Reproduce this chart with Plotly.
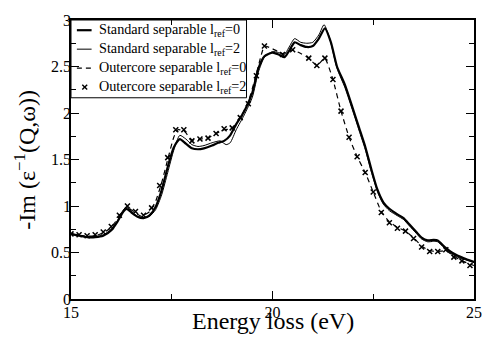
import plotly.graph_objects as go

# Standard separable, l_ref = 0
e_std0 = [15.0, 15.2, 15.4, 15.6, 15.8, 16.0, 16.15, 16.3, 16.38, 16.5, 16.65, 16.8, 16.95,
          17.1, 17.25, 17.4, 17.55, 17.7, 17.85, 18.0, 18.15, 18.3, 18.5, 18.65, 18.8, 18.95,
          19.1, 19.3, 19.5, 19.65, 19.8, 20.0, 20.15, 20.3, 20.4, 20.55, 20.7, 20.85, 21.0,
          21.15, 21.3, 21.45, 21.6, 21.8, 22.0, 22.15, 22.3, 22.45, 22.6, 22.75, 22.9, 23.1,
          23.25, 23.4, 23.57, 23.7, 23.85, 24.0, 24.1, 24.2, 24.3, 24.45, 24.6, 24.8, 25.0]
im_std0 = [0.70, 0.68, 0.665, 0.665, 0.68, 0.74, 0.83, 0.94, 0.97, 0.93, 0.885, 0.87, 0.90,
           0.99, 1.17, 1.42, 1.63, 1.72, 1.67, 1.62, 1.61, 1.62, 1.65, 1.68, 1.70, 1.76,
           1.88, 2.02, 2.22, 2.48, 2.61, 2.65, 2.63, 2.60, 2.66, 2.76, 2.73, 2.71, 2.72,
           2.80, 2.91, 2.76, 2.50, 2.30, 2.04, 1.84, 1.64, 1.40, 1.18, 1.04, 0.97, 0.91,
           0.87, 0.80, 0.72, 0.66, 0.63, 0.635, 0.63, 0.59, 0.55, 0.50, 0.465, 0.43, 0.40]

# Standard separable, l_ref = 2
e_std2 = [15.0, 15.2, 15.4, 15.6, 15.8, 16.0, 16.15, 16.3, 16.38, 16.5, 16.65, 16.8, 16.95,
          17.1, 17.25, 17.4, 17.55, 17.7, 17.85, 18.0, 18.15, 18.3, 18.5, 18.7, 18.85, 18.95,
          19.1, 19.3, 19.5, 19.65, 19.8, 20.0, 20.15, 20.3, 20.4, 20.55, 20.7, 20.85, 21.0,
          21.15, 21.28, 21.42, 21.6, 21.8, 22.0, 22.15, 22.3, 22.45, 22.6, 22.75, 22.9, 23.1,
          23.25, 23.4, 23.57, 23.7, 23.85, 24.0, 24.1, 24.2, 24.3, 24.45, 24.6, 24.8, 25.0]
im_std2 = [0.70, 0.685, 0.67, 0.67, 0.69, 0.75, 0.84, 0.96, 0.99, 0.94, 0.89, 0.875, 0.89,
           0.96, 1.12, 1.36, 1.60, 1.76, 1.72, 1.66, 1.64, 1.65, 1.68, 1.70, 1.66, 1.68,
           1.82, 1.98, 2.17, 2.44, 2.60, 2.66, 2.65, 2.63, 2.70, 2.80, 2.76, 2.75, 2.76,
           2.84, 2.95, 2.80, 2.48, 2.27, 2.01, 1.81, 1.61, 1.37, 1.16, 1.02, 0.95, 0.895,
           0.855, 0.785, 0.705, 0.645, 0.615, 0.62, 0.615, 0.575, 0.535, 0.485, 0.45, 0.42, 0.39]

# Outercore separable, l_ref = 0
e_out0 = [15.0, 15.2, 15.4, 15.6, 15.8, 16.0, 16.2, 16.38, 16.55, 16.75, 16.95, 17.1, 17.25,
          17.4, 17.55, 17.65, 17.8, 18.0, 18.2, 18.4, 18.6, 18.8, 19.0, 19.2, 19.4, 19.6,
          19.8, 20.0, 20.25, 20.5, 20.7, 20.9, 21.1, 21.3, 21.5, 21.7, 21.9, 22.1, 22.3,
          22.5, 22.7, 22.9, 23.1, 23.3, 23.5, 23.7, 23.9, 24.1, 24.3, 24.5, 24.7, 25.0]
im_out0 = [0.70, 0.685, 0.675, 0.68, 0.71, 0.77, 0.89, 0.99, 0.94, 0.89, 0.94, 1.05, 1.25,
           1.50, 1.74, 1.82, 1.81, 1.71, 1.72, 1.73, 1.78, 1.82, 1.83, 1.95, 2.12, 2.42,
           2.72, 2.69, 2.64, 2.68, 2.64, 2.59, 2.51, 2.59, 2.36, 2.02, 1.74, 1.53, 1.36,
           1.15, 0.94, 0.83, 0.77, 0.73, 0.66, 0.57, 0.52, 0.51, 0.52, 0.46, 0.41, 0.36]

# Outercore separable, l_ref = 2 (markers only)
e_out2 = [15.0, 15.2, 15.4, 15.6, 15.8, 16.0, 16.2, 16.4, 16.6, 16.8, 17.0, 17.2, 17.4,
          17.6, 17.8, 18.0, 18.2, 18.4, 18.6, 18.8, 19.0, 19.2, 19.4, 19.6, 19.8, 20.25,
          20.5, 20.9, 21.1, 21.3, 21.5, 21.7, 21.9, 22.1, 22.3, 22.5, 22.7, 22.9, 23.1,
          23.3, 23.5, 23.7, 23.9, 24.1, 24.3, 24.5, 24.7, 24.9]
im_out2 = [0.70, 0.69, 0.68, 0.69, 0.72, 0.78, 0.90, 1.00, 0.94, 0.90, 0.98, 1.22, 1.52,
           1.82, 1.82, 1.70, 1.72, 1.73, 1.78, 1.83, 1.84, 1.95, 2.10, 2.40, 2.72, 2.63,
           2.68, 2.59, 2.51, 2.59, 2.36, 2.02, 1.74, 1.53, 1.36, 1.15, 0.93, 0.82, 0.76,
           0.73, 0.65, 0.56, 0.51, 0.51, 0.53, 0.45, 0.41, 0.36]

legend_labels = ["Standard separable l<sub>ref</sub>=0",
                 "Standard separable l<sub>ref</sub>=2",
                 "Outercore separable l<sub>ref</sub>=0",
                 "Outercore separable l<sub>ref</sub>=2"]

FONT = "'Liberation Serif', 'Times New Roman', serif"

W, H = 494, 343
ML, MR, MT, MB = 71, 12, 12, 44
PW, PH = W - ML - MR, H - MT - MB


def px(xp):
    """pixel column -> paper x"""
    return (xp - ML) / PW


def py(yp):
    """pixel row -> paper y"""
    return (H - MB - yp) / PH


fig = go.Figure()
fig.add_trace(go.Scatter(x=e_std0, y=im_std0, mode="lines", name=legend_labels[0],
                         showlegend=False,
                         line=dict(color="black", width=2.2, shape="spline", smoothing=0.6)))
fig.add_trace(go.Scatter(x=e_std2, y=im_std2, mode="lines", name=legend_labels[1],
                         showlegend=False,
                         line=dict(color="black", width=1.0, shape="spline", smoothing=0.6)))
fig.add_trace(go.Scatter(x=e_out0, y=im_out0, mode="lines", name=legend_labels[2],
                         showlegend=False,
                         line=dict(color="black", width=1.2, dash="5px,4px",
                                   shape="spline", smoothing=0.4)))
fig.add_trace(go.Scatter(x=e_out2, y=im_out2, mode="markers", name=legend_labels[3],
                         showlegend=False,
                         marker=dict(symbol="x-thin", size=5, color="black",
                                     line=dict(color="black", width=1.5))))

axis_common = dict(
    showgrid=False, zeroline=False, showline=True, linecolor="black", linewidth=1.6,
    mirror="ticks", ticks="inside", ticklen=8, tickwidth=1.2, tickcolor="black",
    tickfont=dict(family=FONT, size=16, color="black"),
)
fig.update_xaxes(range=[15, 25], tick0=15, dtick=5, ticklabelstandoff=-2,
                 minor=dict(ticks="inside", dtick=2.5, ticklen=5, tickwidth=1.2,
                            tickcolor="black"),
                 **axis_common)
fig.update_yaxes(range=[0, 3], tick0=0, dtick=0.5, ticklabelstandoff=-5,
                 minor=dict(ticks="inside", dtick=0.25, ticklen=5, tickwidth=1.2,
                            tickcolor="black"),
                 **axis_common)

# legend frame: four edges in the upper-left corner of the plot
box_l, box_r, box_t, box_b = px(71), px(250), py(12), py(92)
shapes = []
for x0, y0, x1, y1 in [(box_l, box_t, box_r, box_t), (box_r, box_t, box_r, box_b),
                       (box_r, box_b, box_l, box_b), (box_l, box_b, box_l, box_t)]:
    shapes.append(dict(type="line", xref="paper", yref="paper", x0=x0, y0=y0, x1=x1, y1=y1,
                       line=dict(color="black", width=1), layer="above"))
rows = [22.5, 42, 61.5, 81]
shapes.append(dict(type="line", xref="paper", yref="paper", x0=px(77), x1=px(92),
                   y0=py(rows[0]), y1=py(rows[0]), line=dict(color="black", width=2.2),
                   layer="above"))
shapes.append(dict(type="line", xref="paper", yref="paper", x0=px(77), x1=px(92),
                   y0=py(rows[1]), y1=py(rows[1]), line=dict(color="black", width=1.0),
                   layer="above"))
shapes.append(dict(type="line", xref="paper", yref="paper", x0=px(77), x1=px(93),
                   y0=py(rows[2]), y1=py(rows[2]),
                   line=dict(color="black", width=1.2, dash="5px,4px"), layer="above"))
for dx in (-1, 1):
    shapes.append(dict(type="line", xref="paper", yref="paper",
                       x0=px(85 - 2.5), x1=px(85 + 2.5),
                       y0=py(rows[3] - 2.5 * dx), y1=py(rows[3] + 2.5 * dx),
                       line=dict(color="black", width=1.4), layer="above"))

annotations = []
for label, r in zip(legend_labels, rows):
    annotations.append(dict(text=label, xref="paper", yref="paper", x=px(98), y=py(r),
                            xanchor="left", yanchor="middle", showarrow=False,
                            font=dict(family=FONT, size=14.2, color="black")))
annotations.append(dict(text="Energy loss (eV)", xref="paper", yref="paper", x=0.5,
                        y=-0.025, xanchor="center", yanchor="top", showarrow=False,
                        font=dict(family=FONT, size=24, color="black")))
annotations.append(dict(text="-Im (ε<sup>−1</sup>(Q,ω))", xref="paper", yref="paper",
                        x=-0.074, y=0.5, xanchor="right", yanchor="middle", textangle=-90,
                        showarrow=False, font=dict(family=FONT, size=24, color="black")))

fig.update_layout(
    width=W, height=H,
    margin=dict(l=ML, r=MR, t=MT, b=MB),
    paper_bgcolor="white", plot_bgcolor="white",
    font=dict(family=FONT, color="black"),
    showlegend=False,
    shapes=shapes,
    annotations=annotations,
)

fig.write_html("out.html")
